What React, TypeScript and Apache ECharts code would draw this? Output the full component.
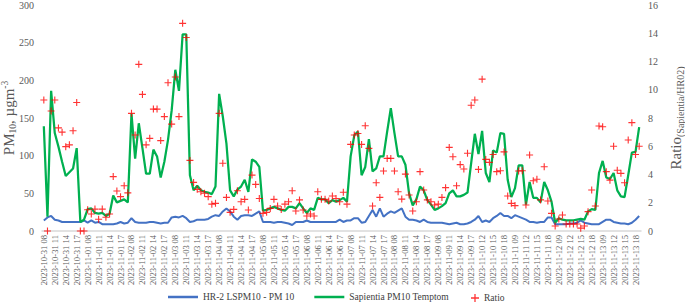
import React, { useEffect, useRef } from "react";
import * as echarts from "echarts";

// Sampling days: [date, first hour, last hour]
const days: [string, number, number][] = [
  ["2023-10-31", 8, 19],
  ["2023-11-01", 8, 19],
  ["2023-11-02", 8, 19],
  ["2023-11-03", 8, 19],
  ["2023-11-04", 8, 19],
  ["2023-11-05", 8, 19],
  ["2023-11-06", 8, 19],
  ["2023-11-07", 8, 19],
  ["2023-11-08", 8, 19],
  ["2023-11-09", 8, 19],
  ["2023-11-10", 12, 20],
  ["2023-11-11", 9, 20],
  ["2023-11-12", 9, 20],
  ["2023-11-13", 9, 19],
];

const categories: string[] = [];
for (const [d, h0, h1] of days) {
  for (let h = h0; h <= h1; h++) categories.push(`${d} ${String(h).padStart(2, "0")}`);
}

const hr2: number[] = [
  14, 18, 20, 15, 14, 12, 12, 12, 12, 12, 12, 14, 11, 14, 11, 12, 9, 9, 9, 9,
  10, 12, 10, 11, 17, 12, 11, 11, 11, 12, 12, 11, 10, 11, 11, 18, 19, 18, 20, 17,
  12, 13, 15, 15, 15, 16, 19, 21, 20, 26, 30, 26, 19, 15, 20, 21, 21, 20, 23, 26,
  12, 12, 12, 11, 12, 12, 11, 10, 8, 12, 12, 12, 14, 12, 12, 12, 12, 12, 12, 12,
  12, 15, 12, 14, 14, 17, 17, 11, 12, 20, 28, 19, 30, 19, 23, 26, 24, 27, 30, 19,
  15, 15, 14, 12, 15, 12, 11, 11, 11, 11, 10, 9, 10, 11, 9, 9, 10, 12, 15, 20,
  12, 14, 12, 17, 20, 24, 20, 20, 17, 21, 19, 17, 15, 12, 12, 11, 12, 12, 18, 18,
  9, 9, 9, 9, 10, 10, 11, 14, 11, 10, 9, 9, 9, 12, 15, 15, 12, 11, 10, 10,
  9, 11, 15, 20,
];

const sapientia: number[] = [
  139, 19, 186, 130, 112, 92, 73, 78, 83, 110, 12, 15, 29, 30, 24, 23, 24, 20, 23, 47,
  38, 40, 42, 38, 156, 96, 143, 110, 76, 76, 108, 99, 71, 92, 121, 160, 214, 186, 261, 261,
  74, 54, 60, 54, 52, 51, 49, 59, 182, 152, 116, 54, 46, 55, 59, 68, 52, 95, 92, 85,
  27, 28, 30, 32, 30, 28, 27, 32, 32, 30, 37, 30, 24, 30, 28, 44, 42, 42, 37, 41,
  39, 41, 44, 39, 99, 127, 132, 74, 85, 122, 79, 83, 99, 99, 132, 163, 130, 99, 99, 88,
  50, 34, 42, 59, 54, 41, 35, 28, 30, 33, 37, 50, 54, 46, 46, 48, 51, 90, 129, 102,
  133, 77, 65, 107, 104, 130, 129, 68, 45, 57, 87, 87, 35, 65, 44, 44, 38, 65, 54, 39,
  11, 17, 15, 14, 14, 14, 15, 16, 15, 26, 29, 28, 77, 93, 71, 69, 77, 54, 46, 45,
  74, 104, 105, 138,
];

const ratio: number[] = [
  9.27, 0, 8.5, 9.27, 7.3, 7.0, 5.97, 6.1, 7.1, 9.1, 0, 0, 1.5, 1.2, 1.55, 0.83, 1.55, 0.97, 1.2, 3.85,
  2.83, 2.43, 3.2, 2.7, 8.33, 6.8, 11.8, 9.67, 6.1, 6.56, 8.63, 8.63, 6.4, 8.1, 10.5, 7.57, 10.9, 8.1, 14.7, 13.7,
  5.0, 3.44, 2.95, 2.78, 2.67, 2.43, 1.9, 1.96, 8.33, 4.8, 2.38, 1.32, 1.53, 2.85, 2.07, 2.24, 1.49, 3.96, 3.3, 2.3,
  1.25, 1.32, 1.6, 2.24, 1.77, 1.53, 1.9, 2.07, 2.85, 1.42, 2.2, 1.49, 1.06, 1.2, 1.06, 2.78, 2.24, 2.24, 2.12, 2.48,
  2.3, 2.07, 2.74, 1.9, 6.13, 6.8, 6.9, 6.13, 7.45, 5.85, 1.77, 3.42, 2.38, 4.25, 5.14, 5.14, 4.25, 2.78, 2.26, 4.03,
  2.55, 1.42, 2.07, 4.2, 2.9, 2.2, 2.07, 1.84, 1.9, 2.38, 3.07, 5.92, 5.26, 3.2, 4.7, 4.39, 5.5, 8.9, 9.27, 4.36,
  10.75, 5.07, 4.86, 5.42, 4.2, 4.27, 5.6, 2.48, 1.96, 1.8, 4.25, 4.27, 1.84, 5.38, 3.56, 3.66, 2.2, 4.55, 2.12, 1.25,
  0.35, 0.85, 1.13, 0.5, 0.5, 0.5, 0.5, 0.2, 0.35, 1.37, 2.9, 1.77, 7.43, 7.38, 4.2, 3.6, 6.0, 4.3, 4.08, 3.42,
  6.44, 7.67, 5.42, 6.0,
];

const seriesNames = ["HR-2 LSPM10 - PM 10", "Sapientia PM10 Temptom", "Ratio"];

const SERIF = "Liberation Serif";
const PLUS = "path://M4.2,0H5.8V4.2H10V5.8H5.8V10H4.2V5.8H0V4.2H4.2Z";

export default function App() {
  const ref = useRef<HTMLDivElement>(null);
  useEffect(() => {
    if (!ref.current) return;
    const chart = echarts.init(ref.current, undefined, { renderer: "svg" });
    const legendText = { fontFamily: SERIF, fontSize: 9.5, color: "#404040" };
    chart.setOption({
      animation: false,
      backgroundColor: "#ffffff",
      textStyle: { fontFamily: SERIF },
      grid: {
        left: 42,
        right: 44,
        top: 5,
        bottom: 76,
        containLabel: false,
        outerBoundsMode: "none",
      },
      legend: [
        {
          data: [seriesNames[0], seriesNames[1]],
          left: 168,
          top: 292,
          icon: "rect",
          itemWidth: 30,
          itemHeight: 2.5,
          itemGap: 20,
          padding: 0,
          textStyle: legendText,
        },
        {
          data: [seriesNames[2]],
          left: 471,
          top: 293,
          itemWidth: 8,
          itemHeight: 8,
          padding: 0,
          textStyle: legendText,
        },
      ],
      xAxis: {
        type: "category",
        data: categories,
        boundaryGap: true,
        axisLine: { show: true, lineStyle: { color: "#D9D9D9", width: 1.5 } },
        axisTick: { show: false },
        axisLabel: {
          interval: 2,
          rotate: 90,
          fontFamily: SERIF,
          fontSize: 8.5,
          color: "#595959",
          margin: 4,
        },
        splitLine: { show: false },
      },
      yAxis: [
        {
          type: "value",
          min: 0,
          max: 300,
          interval: 50,
          axisLine: { show: false },
          axisTick: { show: false },
          splitLine: { show: false },
          axisLabel: { fontFamily: SERIF, fontSize: 10, color: "#595959", margin: 8 },
          name: "{a|PM}{s|10}{a|, µgm}{p|-3}",
          nameLocation: "middle",
          nameGap: 24,
          nameMoveOverlap: false,
          nameTextStyle: {
            fontFamily: SERIF,
            color: "#595959",
            rich: {
              a: { fontFamily: SERIF, fontSize: 15, lineHeight: 18, color: "#595959" },
              s: { fontFamily: SERIF, fontSize: 9.5, lineHeight: 10, verticalAlign: "bottom", color: "#595959" },
              p: { fontFamily: SERIF, fontSize: 9.5, lineHeight: 10, verticalAlign: "top", color: "#595959" },
            },
          },
        },
        {
          type: "value",
          min: 0,
          max: 16,
          interval: 2,
          position: "right",
          axisLine: { show: false },
          axisTick: { show: false },
          splitLine: { show: false },
          axisLabel: { fontFamily: SERIF, fontSize: 10, color: "#595959", margin: 7 },
          name: "{a|Ratio}{s|(Sapientia/HR02)}",
          nameLocation: "middle",
          nameGap: 25,
          nameTextStyle: {
            fontFamily: SERIF,
            color: "#595959",
            rich: {
              a: { fontFamily: SERIF, fontSize: 15, lineHeight: 18, color: "#595959" },
              s: { fontFamily: SERIF, fontSize: 10, lineHeight: 10, verticalAlign: "bottom", color: "#595959" },
            },
          },
        },
      ],
      series: [
        {
          name: seriesNames[0],
          type: "line",
          data: hr2,
          yAxisIndex: 0,
          symbol: "none",
          lineStyle: { color: "#4472C4", width: 2 },
          itemStyle: { color: "#4472C4" },
          z: 2,
        },
        {
          name: seriesNames[1],
          type: "line",
          data: sapientia,
          yAxisIndex: 0,
          symbol: "none",
          lineStyle: { color: "#00B050", width: 2.25 },
          itemStyle: { color: "#00B050" },
          z: 3,
        },
        {
          name: seriesNames[2],
          type: "scatter",
          data: ratio,
          yAxisIndex: 1,
          symbol: PLUS,
          symbolSize: 7,
          itemStyle: { color: "#FF0000" },
          z: 4,
        },
      ],
    });
    return () => chart.dispose();
  }, []);
  return (
    <div
      ref={ref}
      style={{ position: "fixed", left: 0, top: 0, width: 685, height: 307 }}
    />
  );
}
